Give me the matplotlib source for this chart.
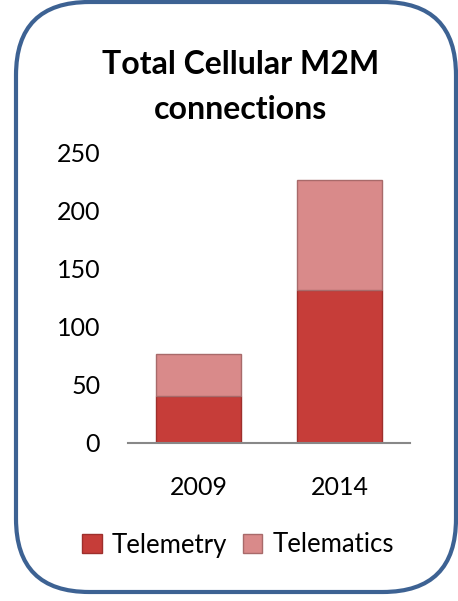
import matplotlib
matplotlib.use("Agg")
import matplotlib.pyplot as plt
from matplotlib.patches import FancyBboxPatch
import numpy as np

categories = ["2009", "2014"]
telemetry = [40, 132]
telematics = [36, 95]
series_names = ["Telemetry", "Telematics"]
yticks = [0, 50, 100, 150, 200, 250]

plt.rcParams['font.family'] = ['Lato', 'DejaVu Sans']

W, H = 458, 601
fig = plt.figure(figsize=(W / 100, H / 100), dpi=100)

# rounded border
border = FancyBboxPatch((16 / W, 9 / H), (456 - 16) / W, (599 - 9) / H,
                        boxstyle="round,pad=0,rounding_size=0.16",
                        transform=fig.transFigure, fill=False,
                        edgecolor="#3d6293", linewidth=3, mutation_aspect=W / H)
fig.patches.append(border)

ax = fig.add_axes([128 / W, 1 - 442.5 / H, (410 - 128) / W, (442.5 - 153) / H])
x = np.arange(len(categories))
c1, c2 = "#c63d39", "#d98a8a"
ax.bar(x, telemetry, width=0.6, color=c1, edgecolor="#9e2f2c", linewidth=1, label=series_names[0])
ax.bar(x, telematics, width=0.6, bottom=telemetry, color=c2, edgecolor="#a86a6a", linewidth=1,
       label=series_names[1])

ax.set_xlim(-0.5, 1.5)
ax.set_ylim(0, 250)
ax.set_yticks(yticks)
ax.set_xticks(x)
ax.set_xticklabels(categories)
for s in ["top", "right", "left"]:
    ax.spines[s].set_visible(False)
ax.spines["bottom"].set_color("#888888")
ax.spines["bottom"].set_linewidth(1.5)
ax.tick_params(axis="y", length=0, pad=20, labelsize=18)
ax.tick_params(axis="x", length=0, pad=24, labelsize=18)

fig.text(241 / W, 1 - 65 / H, "Total Cellular M2M", ha="center", va="center",
         fontsize=23, fontweight="bold")
fig.text(241 / W, 1 - 109 / H, "connections", ha="center", va="center",
         fontsize=23, fontweight="bold")

leg = fig.legend(loc="center", bbox_to_anchor=(238 / W, 1 - 545 / H), ncol=2, frameon=False,
                 fontsize=18.5, handlelength=0.75, handleheight=0.75, handletextpad=0.4,
                 columnspacing=0.6)

fig.savefig("out.png", dpi=100)
